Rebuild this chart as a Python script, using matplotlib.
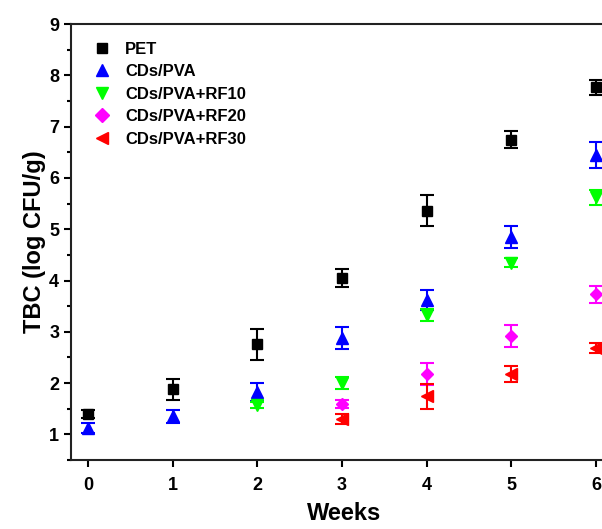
import numpy as np
import matplotlib
matplotlib.use("Agg")
import matplotlib.pyplot as plt
from matplotlib.lines import Line2D

plt.rcParams['font.family'] = ['Liberation Sans', 'DejaVu Sans']
plt.rcParams['font.weight'] = 'bold'

weeks = [0, 1, 2, 3, 4, 5, 6]

# series values (log CFU/g) and error bars
pet = [1.40, 1.88, 2.76, 4.05, 5.36, 6.75, 7.77]
pet_err = [0.08, 0.20, 0.30, 0.18, 0.30, 0.17, 0.15]

pva = [1.12, 1.35, 1.83, 2.88, 3.62, 4.85, 6.45]
pva_err = [0.10, 0.12, 0.18, 0.22, 0.19, 0.21, 0.25]

rf10_weeks = [2, 3, 4, 5, 6]
rf10 = [1.58, 2.00, 3.33, 4.35, 5.62]
rf10_err = [0.06, 0.12, 0.12, 0.08, 0.15]

rf20_weeks = [3, 4, 5, 6]
rf20 = [1.59, 2.18, 2.92, 3.73]
rf20_err = [0.08, 0.21, 0.21, 0.17]

rf30_weeks = [3, 4, 5, 6]
rf30 = [1.30, 1.74, 2.18, 2.68]
rf30_err = [0.10, 0.24, 0.16, 0.10]

series = [
    ("PET", weeks, pet, pet_err, "s", "black", 6.5),
    ("CDs/PVA", weeks, pva, pva_err, "^", "blue", 8),
    ("CDs/PVA+RF10", rf10_weeks, rf10, rf10_err, "v", "#00ff00", 8),
    ("CDs/PVA+RF20", rf20_weeks, rf20, rf20_err, "D", "magenta", 6.5),
    ("CDs/PVA+RF30", rf30_weeks, rf30, rf30_err, "<", "red", 8),
]

fig = plt.figure(figsize=(6.02, 5.29), dpi=100)
ax = fig.add_axes([0.118, 0.1304, 0.907, 0.824])

handles = []
for label, x, y, err, mk, col, ms in series:
    ax.errorbar(x, y, yerr=err, fmt=mk, color=col, ecolor=col, markersize=ms,
                elinewidth=1.5, capsize=5, capthick=1.5)
    handles.append(Line2D([], [], linestyle='none', marker=mk, color=col,
                          markersize=ms + 0.5, label=label))

ax.set_xlim(-0.2, 6.25)
ax.set_ylim(0.5, 9)
ax.set_xticks(weeks)
ax.set_yticks(range(1, 10))
ax.set_yticks(np.arange(0.5, 9.01, 0.5), minor=True)
ax.tick_params(axis='both', which='major', direction='out', length=5, width=1.5,
               labelsize=13)
ax.tick_params(axis='x', which='major', pad=7)
ax.tick_params(axis='y', which='minor', direction='out', length=3, width=1.5)
for lab in ax.get_xticklabels() + ax.get_yticklabels():
    lab.set_fontweight('bold')
for s in ax.spines.values():
    s.set_linewidth(1.5)
    s.set_color('#222222')

ax.set_xlabel("Weeks", fontsize=17, fontweight='bold', labelpad=6)
ax.set_ylabel("TBC (log CFU/g)", fontsize=17, fontweight='bold', labelpad=2)

leg = ax.legend(handles=handles, loc='upper left', frameon=False, fontsize=12,
                handlelength=1.0, handletextpad=0.85, labelspacing=0.45,
                borderaxespad=0.0, bbox_to_anchor=(0.03, 0.975))
for t in leg.get_texts():
    t.set_fontweight('bold')

fig.savefig("out.png", dpi=100)
